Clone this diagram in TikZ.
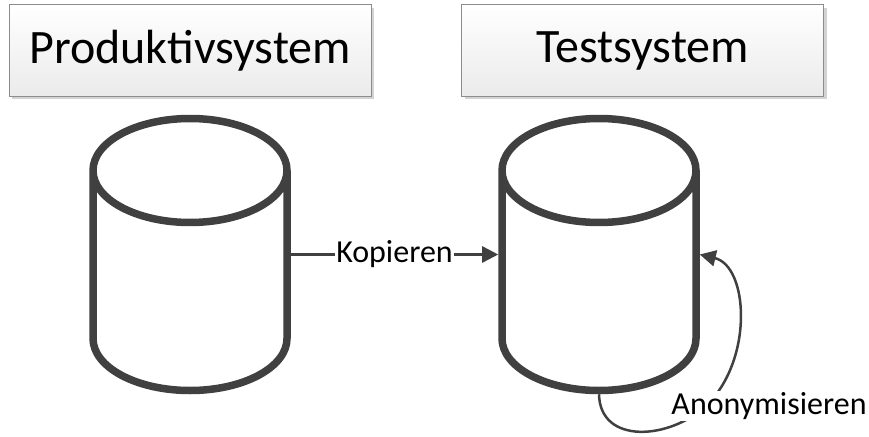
\documentclass[tikz,border=0pt]{standalone}
\usepackage{fontspec}
\setmainfont{Carlito}
\usetikzlibrary{shapes.geometric,shadows,arrows.meta}

\definecolor{dbgray}{HTML}{404040}
\definecolor{boxline}{HTML}{8C8C8C}

\begin{document}
\begin{tikzpicture}[x=1pt,y=-1pt,
    >={Triangle[length=16pt,width=16pt]},
    sysbox/.style={draw=boxline,line width=1pt,top color=white,bottom color=black!8,
      minimum width=362pt,minimum height=91pt,
      drop shadow={shadow xshift=3pt,shadow yshift=-3pt,opacity=0.35},
      font=\fontsize{48}{54}\selectfont},
    db/.style={cylinder,shape border rotate=90,draw=dbgray,line width=7.5pt,fill=white,
      aspect=15.6,minimum width=194pt,minimum height=272pt,anchor=shape center},
    conn/.style={draw=dbgray,line width=2.5pt},
    lbl/.style={fill=white,inner sep=1pt,font=\fontsize{32}{36}\selectfont}]
\useasboundingbox (0,0) rectangle (869,436);

\node[sysbox] (prod) at (190,50.5) {Produktivsystem};
\node[sysbox] (test) at (642.5,50.5) {Testsystem};

\node[db] (pdb) at (190,254.5) {};
\node[db] (tdb) at (599,254.5) {};

\draw[conn,->] (pdb.east |- pdb.shape center) -- node[lbl] {Kopieren} (tdb.west |- tdb.shape center);

\coordinate (bend) at (707,405);
\draw[conn,->] (tdb.south) .. controls (600,445) and (670,440) .. (bend)
  .. controls (754,358) and (748,266) .. (tdb.east |- tdb.shape center);
\node[lbl] (anon) at (769,406) {Anonymisieren};
\end{tikzpicture}
\end{document}
